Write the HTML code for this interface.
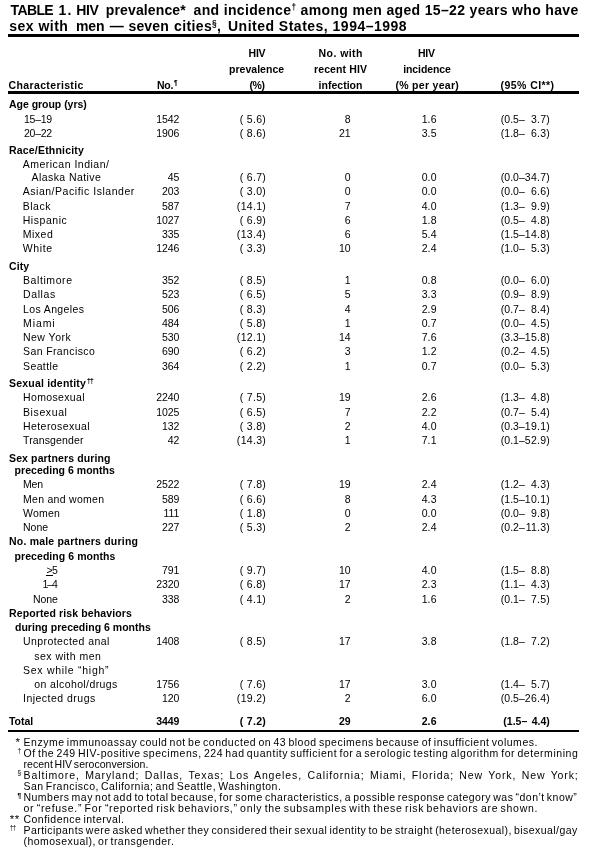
<!DOCTYPE html>
<html lang="en"><head><meta charset="utf-8"><title>TABLE 1</title>
<style>
html,body{margin:0;padding:0;background:#fff;}
#p{will-change:transform;position:relative;width:601px;height:859px;overflow:hidden;background:#fff;color:#000;font-family:"Liberation Sans", sans-serif;}
#p span{position:absolute;white-space:pre;line-height:14px;}
#p b.s{font-size:0.6em;vertical-align:0.55em;line-height:0;}
#p i{position:absolute;display:block;background:#000;}
</style></head><body><div id="p">
<i style="left:8px;top:34px;width:571px;height:3px"></i>
<i style="left:8px;top:91px;width:571px;height:3px"></i>
<i style="left:8px;top:730px;width:571px;height:2px"></i>
<i style="left:46px;top:575px;width:7px;height:1px"></i>
<span style="left:10.60px;top:3.00px;font-size:14px;font-weight:700;letter-spacing:-0.646px;">TABLE</span>
<span style="left:58.60px;top:3.00px;font-size:14px;font-weight:700;letter-spacing:1.014px;">1.</span>
<span style="left:76.20px;top:3.00px;font-size:14px;font-weight:700;letter-spacing:-0.400px;">HIV</span>
<span style="left:105.80px;top:3.00px;font-size:14px;font-weight:700;letter-spacing:0.134px;">prevalence*</span>
<span style="left:193.60px;top:3.00px;font-size:14px;font-weight:700;letter-spacing:0.340px;">and incidence<b class="s">†</b> among men aged 15–22 years who have</span>
<span style="left:9.20px;top:19.00px;font-size:14px;font-weight:700;letter-spacing:0.487px;">sex with</span>
<span style="left:76.00px;top:19.00px;font-size:14px;font-weight:700;letter-spacing:-0.117px;">men</span>
<span style="left:109.80px;top:19.00px;font-size:14px;font-weight:700;">—</span>
<span style="left:128.50px;top:19.00px;font-size:14px;font-weight:700;letter-spacing:0.139px;">seven</span>
<span style="left:174.00px;top:19.00px;font-size:14px;font-weight:700;letter-spacing:0.375px;">cities<b class="s">§</b>,</span>
<span style="left:228.00px;top:19.00px;font-size:14px;font-weight:700;letter-spacing:0.490px;">United States, 1994–1998</span>
<span style="left:8.60px;top:78.00px;font-size:10.5px;font-weight:700;letter-spacing:0.362px;">Characteristic</span>
<span style="left:157.00px;top:78.00px;font-size:10.5px;font-weight:700;letter-spacing:-0.248px;">No.</span>
<span style="left:174.00px;top:76.00px;font-size:6.5px;font-weight:700;">¶</span>
<span style="left:248.60px;top:46.00px;font-size:10.5px;font-weight:700;letter-spacing:-0.300px;">HIV</span>
<span style="left:229.00px;top:62.00px;font-size:10.5px;font-weight:700;letter-spacing:0.030px;">prevalence</span>
<span style="left:249.40px;top:78.00px;font-size:10.5px;font-weight:700;letter-spacing:-0.416px;">(%)</span>
<span style="left:318.60px;top:46.00px;font-size:10.5px;font-weight:700;letter-spacing:0.427px;">No. with</span>
<span style="left:314.00px;top:62.00px;font-size:10.5px;font-weight:700;letter-spacing:0.119px;">recent HIV</span>
<span style="left:318.60px;top:78.00px;font-size:10.5px;font-weight:700;letter-spacing:0.008px;">infection</span>
<span style="left:418.00px;top:46.00px;font-size:10.5px;font-weight:700;letter-spacing:-0.250px;">HIV</span>
<span style="left:403.20px;top:62.00px;font-size:10.5px;font-weight:700;letter-spacing:-0.099px;">incidence</span>
<span style="left:395.40px;top:78.00px;font-size:10.5px;font-weight:700;letter-spacing:0.299px;">(% per year)</span>
<span style="left:500.60px;top:78.00px;font-size:10.5px;font-weight:700;letter-spacing:0.422px;">(95% CI**)</span>
<span style="left:9.00px;top:97.00px;font-size:10.5px;font-weight:700;letter-spacing:-0.027px;">Age group (yrs)</span>
<span style="left:24.00px;top:112.00px;font-size:10.5px;letter-spacing:-0.265px;">15–19</span>
<span style="left:156.18px;top:112.00px;font-size:10.5px;letter-spacing:-0.100px;">1542</span>
<span style="left:239.79px;top:112.00px;font-size:10.5px;letter-spacing:0.300px;">( 5.6)</span>
<span style="left:344.80px;top:112.00px;font-size:10.5px;">8</span>
<span style="left:421.64px;top:112.00px;font-size:10.5px;letter-spacing:0.150px;">1.6</span>
<span style="left:500.80px;top:112.00px;font-size:10.5px;">(0.5–</span>
<span style="left:530.95px;top:112.00px;font-size:10.5px;letter-spacing:0.250px;">3.7)</span>
<span style="left:24.00px;top:126.00px;font-size:10.5px;letter-spacing:-0.265px;">20–22</span>
<span style="left:156.18px;top:126.00px;font-size:10.5px;letter-spacing:-0.100px;">1906</span>
<span style="left:239.79px;top:126.00px;font-size:10.5px;letter-spacing:0.300px;">( 8.6)</span>
<span style="left:338.96px;top:126.00px;font-size:10.5px;">21</span>
<span style="left:421.64px;top:126.00px;font-size:10.5px;letter-spacing:0.150px;">3.5</span>
<span style="left:500.80px;top:126.00px;font-size:10.5px;">(1.8–</span>
<span style="left:530.95px;top:126.00px;font-size:10.5px;letter-spacing:0.250px;">6.3)</span>
<span style="left:9.00px;top:143.00px;font-size:10.5px;font-weight:700;letter-spacing:0.191px;">Race/Ethnicity</span>
<span style="left:22.70px;top:157.00px;font-size:10.5px;letter-spacing:0.495px;">American Indian/</span>
<span style="left:31.60px;top:170.00px;font-size:10.5px;letter-spacing:0.420px;">Alaska Native</span>
<span style="left:167.66px;top:170.00px;font-size:10.5px;letter-spacing:-0.100px;">45</span>
<span style="left:239.79px;top:170.00px;font-size:10.5px;letter-spacing:0.300px;">( 6.7)</span>
<span style="left:344.80px;top:170.00px;font-size:10.5px;">0</span>
<span style="left:421.64px;top:170.00px;font-size:10.5px;letter-spacing:0.150px;">0.0</span>
<span style="left:500.80px;top:170.00px;font-size:10.5px;">(0.0–</span>
<span style="left:524.86px;top:170.00px;font-size:10.5px;letter-spacing:0.250px;">34.7)</span>
<span style="left:22.70px;top:184.00px;font-size:10.5px;letter-spacing:0.534px;">Asian/Pacific Islander</span>
<span style="left:161.92px;top:184.00px;font-size:10.5px;letter-spacing:-0.100px;">203</span>
<span style="left:239.79px;top:184.00px;font-size:10.5px;letter-spacing:0.300px;">( 3.0)</span>
<span style="left:344.80px;top:184.00px;font-size:10.5px;">0</span>
<span style="left:421.64px;top:184.00px;font-size:10.5px;letter-spacing:0.150px;">0.0</span>
<span style="left:500.80px;top:184.00px;font-size:10.5px;">(0.0–</span>
<span style="left:530.95px;top:184.00px;font-size:10.5px;letter-spacing:0.250px;">6.6)</span>
<span style="left:22.70px;top:199.00px;font-size:10.5px;letter-spacing:0.544px;">Black</span>
<span style="left:161.92px;top:199.00px;font-size:10.5px;letter-spacing:-0.100px;">587</span>
<span style="left:236.87px;top:199.00px;font-size:10.5px;letter-spacing:0.300px;">(14.1)</span>
<span style="left:344.80px;top:199.00px;font-size:10.5px;">7</span>
<span style="left:421.64px;top:199.00px;font-size:10.5px;letter-spacing:0.150px;">4.0</span>
<span style="left:500.80px;top:199.00px;font-size:10.5px;">(1.3–</span>
<span style="left:530.95px;top:199.00px;font-size:10.5px;letter-spacing:0.250px;">9.9)</span>
<span style="left:22.70px;top:213.00px;font-size:10.5px;letter-spacing:0.555px;">Hispanic</span>
<span style="left:156.18px;top:213.00px;font-size:10.5px;letter-spacing:-0.100px;">1027</span>
<span style="left:239.79px;top:213.00px;font-size:10.5px;letter-spacing:0.300px;">( 6.9)</span>
<span style="left:344.80px;top:213.00px;font-size:10.5px;">6</span>
<span style="left:421.64px;top:213.00px;font-size:10.5px;letter-spacing:0.150px;">1.8</span>
<span style="left:500.80px;top:213.00px;font-size:10.5px;">(0.5–</span>
<span style="left:530.95px;top:213.00px;font-size:10.5px;letter-spacing:0.250px;">4.8)</span>
<span style="left:22.70px;top:227.00px;font-size:10.5px;letter-spacing:0.533px;">Mixed</span>
<span style="left:161.92px;top:227.00px;font-size:10.5px;letter-spacing:-0.100px;">335</span>
<span style="left:236.87px;top:227.00px;font-size:10.5px;letter-spacing:0.300px;">(13.4)</span>
<span style="left:344.80px;top:227.00px;font-size:10.5px;">6</span>
<span style="left:421.64px;top:227.00px;font-size:10.5px;letter-spacing:0.150px;">5.4</span>
<span style="left:500.80px;top:227.00px;font-size:10.5px;">(1.5–</span>
<span style="left:524.86px;top:227.00px;font-size:10.5px;letter-spacing:0.250px;">14.8)</span>
<span style="left:22.70px;top:241.00px;font-size:10.5px;letter-spacing:0.650px;">White</span>
<span style="left:156.18px;top:241.00px;font-size:10.5px;letter-spacing:-0.100px;">1246</span>
<span style="left:239.79px;top:241.00px;font-size:10.5px;letter-spacing:0.300px;">( 3.3)</span>
<span style="left:338.96px;top:241.00px;font-size:10.5px;">10</span>
<span style="left:421.64px;top:241.00px;font-size:10.5px;letter-spacing:0.150px;">2.4</span>
<span style="left:500.80px;top:241.00px;font-size:10.5px;">(1.0–</span>
<span style="left:530.95px;top:241.00px;font-size:10.5px;letter-spacing:0.250px;">5.3)</span>
<span style="left:9.00px;top:259.00px;font-size:10.5px;font-weight:700;letter-spacing:0.101px;">City</span>
<span style="left:23.00px;top:273.00px;font-size:10.5px;letter-spacing:0.586px;">Baltimore</span>
<span style="left:161.92px;top:273.00px;font-size:10.5px;letter-spacing:-0.100px;">352</span>
<span style="left:239.79px;top:273.00px;font-size:10.5px;letter-spacing:0.300px;">( 8.5)</span>
<span style="left:344.80px;top:273.00px;font-size:10.5px;">1</span>
<span style="left:421.64px;top:273.00px;font-size:10.5px;letter-spacing:0.150px;">0.8</span>
<span style="left:500.80px;top:273.00px;font-size:10.5px;">(0.0–</span>
<span style="left:530.95px;top:273.00px;font-size:10.5px;letter-spacing:0.250px;">6.0)</span>
<span style="left:23.00px;top:287.00px;font-size:10.5px;letter-spacing:0.615px;">Dallas</span>
<span style="left:161.92px;top:287.00px;font-size:10.5px;letter-spacing:-0.100px;">523</span>
<span style="left:239.79px;top:287.00px;font-size:10.5px;letter-spacing:0.300px;">( 6.5)</span>
<span style="left:344.80px;top:287.00px;font-size:10.5px;">5</span>
<span style="left:421.64px;top:287.00px;font-size:10.5px;letter-spacing:0.150px;">3.3</span>
<span style="left:500.80px;top:287.00px;font-size:10.5px;">(0.9–</span>
<span style="left:530.95px;top:287.00px;font-size:10.5px;letter-spacing:0.250px;">8.9)</span>
<span style="left:23.00px;top:302.00px;font-size:10.5px;letter-spacing:0.376px;">Los Angeles</span>
<span style="left:161.92px;top:302.00px;font-size:10.5px;letter-spacing:-0.100px;">506</span>
<span style="left:239.79px;top:302.00px;font-size:10.5px;letter-spacing:0.300px;">( 8.3)</span>
<span style="left:344.80px;top:302.00px;font-size:10.5px;">4</span>
<span style="left:421.64px;top:302.00px;font-size:10.5px;letter-spacing:0.150px;">2.9</span>
<span style="left:500.80px;top:302.00px;font-size:10.5px;">(0.7–</span>
<span style="left:530.95px;top:302.00px;font-size:10.5px;letter-spacing:0.250px;">8.4)</span>
<span style="left:23.00px;top:316.00px;font-size:10.5px;letter-spacing:0.909px;">Miami</span>
<span style="left:161.92px;top:316.00px;font-size:10.5px;letter-spacing:-0.100px;">484</span>
<span style="left:239.79px;top:316.00px;font-size:10.5px;letter-spacing:0.300px;">( 5.8)</span>
<span style="left:344.80px;top:316.00px;font-size:10.5px;">1</span>
<span style="left:421.64px;top:316.00px;font-size:10.5px;letter-spacing:0.150px;">0.7</span>
<span style="left:500.80px;top:316.00px;font-size:10.5px;">(0.0–</span>
<span style="left:530.95px;top:316.00px;font-size:10.5px;letter-spacing:0.250px;">4.5)</span>
<span style="left:23.00px;top:330.00px;font-size:10.5px;letter-spacing:0.472px;">New York</span>
<span style="left:161.92px;top:330.00px;font-size:10.5px;letter-spacing:-0.100px;">530</span>
<span style="left:236.87px;top:330.00px;font-size:10.5px;letter-spacing:0.300px;">(12.1)</span>
<span style="left:338.96px;top:330.00px;font-size:10.5px;">14</span>
<span style="left:421.64px;top:330.00px;font-size:10.5px;letter-spacing:0.150px;">7.6</span>
<span style="left:500.80px;top:330.00px;font-size:10.5px;">(3.3–</span>
<span style="left:524.86px;top:330.00px;font-size:10.5px;letter-spacing:0.250px;">15.8)</span>
<span style="left:23.00px;top:344.00px;font-size:10.5px;letter-spacing:0.394px;">San Francisco</span>
<span style="left:161.92px;top:344.00px;font-size:10.5px;letter-spacing:-0.100px;">690</span>
<span style="left:239.79px;top:344.00px;font-size:10.5px;letter-spacing:0.300px;">( 6.2)</span>
<span style="left:344.80px;top:344.00px;font-size:10.5px;">3</span>
<span style="left:421.64px;top:344.00px;font-size:10.5px;letter-spacing:0.150px;">1.2</span>
<span style="left:500.80px;top:344.00px;font-size:10.5px;">(0.2–</span>
<span style="left:530.95px;top:344.00px;font-size:10.5px;letter-spacing:0.250px;">4.5)</span>
<span style="left:23.00px;top:359.00px;font-size:10.5px;letter-spacing:0.392px;">Seattle</span>
<span style="left:161.92px;top:359.00px;font-size:10.5px;letter-spacing:-0.100px;">364</span>
<span style="left:239.79px;top:359.00px;font-size:10.5px;letter-spacing:0.300px;">( 2.2)</span>
<span style="left:344.80px;top:359.00px;font-size:10.5px;">1</span>
<span style="left:421.64px;top:359.00px;font-size:10.5px;letter-spacing:0.150px;">0.7</span>
<span style="left:500.80px;top:359.00px;font-size:10.5px;">(0.0–</span>
<span style="left:530.95px;top:359.00px;font-size:10.5px;letter-spacing:0.250px;">5.3)</span>
<span style="left:9.00px;top:376.00px;font-size:10.5px;font-weight:700;letter-spacing:0.195px;">Sexual identity</span>
<span style="left:86.80px;top:374.00px;font-size:7.5px;font-weight:700;letter-spacing:-1.171px;">††</span>
<span style="left:23.00px;top:390.00px;font-size:10.5px;letter-spacing:0.353px;">Homosexual</span>
<span style="left:156.18px;top:390.00px;font-size:10.5px;letter-spacing:-0.100px;">2240</span>
<span style="left:239.79px;top:390.00px;font-size:10.5px;letter-spacing:0.300px;">( 7.5)</span>
<span style="left:338.96px;top:390.00px;font-size:10.5px;">19</span>
<span style="left:421.64px;top:390.00px;font-size:10.5px;letter-spacing:0.150px;">2.6</span>
<span style="left:500.80px;top:390.00px;font-size:10.5px;">(1.3–</span>
<span style="left:530.95px;top:390.00px;font-size:10.5px;letter-spacing:0.250px;">4.8)</span>
<span style="left:23.00px;top:405.00px;font-size:10.5px;letter-spacing:0.606px;">Bisexual</span>
<span style="left:156.18px;top:405.00px;font-size:10.5px;letter-spacing:-0.100px;">1025</span>
<span style="left:239.79px;top:405.00px;font-size:10.5px;letter-spacing:0.300px;">( 6.5)</span>
<span style="left:344.80px;top:405.00px;font-size:10.5px;">7</span>
<span style="left:421.64px;top:405.00px;font-size:10.5px;letter-spacing:0.150px;">2.2</span>
<span style="left:500.80px;top:405.00px;font-size:10.5px;">(0.7–</span>
<span style="left:530.95px;top:405.00px;font-size:10.5px;letter-spacing:0.250px;">5.4)</span>
<span style="left:23.00px;top:419.00px;font-size:10.5px;letter-spacing:0.424px;">Heterosexual</span>
<span style="left:161.92px;top:419.00px;font-size:10.5px;letter-spacing:-0.100px;">132</span>
<span style="left:239.79px;top:419.00px;font-size:10.5px;letter-spacing:0.300px;">( 3.8)</span>
<span style="left:344.80px;top:419.00px;font-size:10.5px;">2</span>
<span style="left:421.64px;top:419.00px;font-size:10.5px;letter-spacing:0.150px;">4.0</span>
<span style="left:500.80px;top:419.00px;font-size:10.5px;">(0.3–</span>
<span style="left:524.86px;top:419.00px;font-size:10.5px;letter-spacing:0.250px;">19.1)</span>
<span style="left:23.00px;top:433.00px;font-size:10.5px;letter-spacing:0.135px;">Transgender</span>
<span style="left:167.66px;top:433.00px;font-size:10.5px;letter-spacing:-0.100px;">42</span>
<span style="left:236.87px;top:433.00px;font-size:10.5px;letter-spacing:0.300px;">(14.3)</span>
<span style="left:344.80px;top:433.00px;font-size:10.5px;">1</span>
<span style="left:421.64px;top:433.00px;font-size:10.5px;letter-spacing:0.150px;">7.1</span>
<span style="left:500.80px;top:433.00px;font-size:10.5px;">(0.1–</span>
<span style="left:524.86px;top:433.00px;font-size:10.5px;letter-spacing:0.250px;">52.9)</span>
<span style="left:9.00px;top:451.00px;font-size:10.5px;font-weight:700;letter-spacing:0.123px;">Sex partners during</span>
<span style="left:14.60px;top:463.00px;font-size:10.5px;font-weight:700;letter-spacing:0.028px;">preceding 6 months</span>
<span style="left:23.00px;top:477.00px;font-size:10.5px;letter-spacing:-0.143px;">Men</span>
<span style="left:156.18px;top:477.00px;font-size:10.5px;letter-spacing:-0.100px;">2522</span>
<span style="left:239.79px;top:477.00px;font-size:10.5px;letter-spacing:0.300px;">( 7.8)</span>
<span style="left:338.96px;top:477.00px;font-size:10.5px;">19</span>
<span style="left:421.64px;top:477.00px;font-size:10.5px;letter-spacing:0.150px;">2.4</span>
<span style="left:500.80px;top:477.00px;font-size:10.5px;">(1.2–</span>
<span style="left:530.95px;top:477.00px;font-size:10.5px;letter-spacing:0.250px;">4.3)</span>
<span style="left:23.00px;top:492.00px;font-size:10.5px;letter-spacing:0.284px;">Men and women</span>
<span style="left:161.92px;top:492.00px;font-size:10.5px;letter-spacing:-0.100px;">589</span>
<span style="left:239.79px;top:492.00px;font-size:10.5px;letter-spacing:0.300px;">( 6.6)</span>
<span style="left:344.80px;top:492.00px;font-size:10.5px;">8</span>
<span style="left:421.64px;top:492.00px;font-size:10.5px;letter-spacing:0.150px;">4.3</span>
<span style="left:500.80px;top:492.00px;font-size:10.5px;">(1.5–</span>
<span style="left:524.86px;top:492.00px;font-size:10.5px;letter-spacing:0.250px;">10.1)</span>
<span style="left:23.00px;top:506.00px;font-size:10.5px;letter-spacing:0.213px;">Women</span>
<span style="left:163.48px;top:506.00px;font-size:10.5px;letter-spacing:-0.100px;">111</span>
<span style="left:239.79px;top:506.00px;font-size:10.5px;letter-spacing:0.300px;">( 1.8)</span>
<span style="left:344.80px;top:506.00px;font-size:10.5px;">0</span>
<span style="left:421.64px;top:506.00px;font-size:10.5px;letter-spacing:0.150px;">0.0</span>
<span style="left:500.80px;top:506.00px;font-size:10.5px;">(0.0–</span>
<span style="left:530.95px;top:506.00px;font-size:10.5px;letter-spacing:0.250px;">9.8)</span>
<span style="left:23.00px;top:520.00px;font-size:10.5px;letter-spacing:0.013px;">None</span>
<span style="left:161.92px;top:520.00px;font-size:10.5px;letter-spacing:-0.100px;">227</span>
<span style="left:239.79px;top:520.00px;font-size:10.5px;letter-spacing:0.300px;">( 5.3)</span>
<span style="left:344.80px;top:520.00px;font-size:10.5px;">2</span>
<span style="left:421.64px;top:520.00px;font-size:10.5px;letter-spacing:0.150px;">2.4</span>
<span style="left:500.80px;top:520.00px;font-size:10.5px;">(0.2–</span>
<span style="left:525.64px;top:520.00px;font-size:10.5px;letter-spacing:0.250px;">11.3)</span>
<span style="left:9.00px;top:534.00px;font-size:10.5px;font-weight:700;letter-spacing:0.202px;">No. male partners during</span>
<span style="left:14.60px;top:549.00px;font-size:10.5px;font-weight:700;letter-spacing:0.057px;">preceding 6 months</span>
<span style="left:46.60px;top:563.00px;font-size:10.5px;letter-spacing:-0.732px;">&gt;5</span>
<span style="left:161.92px;top:563.00px;font-size:10.5px;letter-spacing:-0.100px;">791</span>
<span style="left:239.79px;top:563.00px;font-size:10.5px;letter-spacing:0.300px;">( 9.7)</span>
<span style="left:338.96px;top:563.00px;font-size:10.5px;">10</span>
<span style="left:421.64px;top:563.00px;font-size:10.5px;letter-spacing:0.150px;">4.0</span>
<span style="left:500.80px;top:563.00px;font-size:10.5px;">(1.5–</span>
<span style="left:530.95px;top:563.00px;font-size:10.5px;letter-spacing:0.250px;">8.8)</span>
<span style="left:42.60px;top:577.00px;font-size:10.5px;letter-spacing:-1.140px;">1–4</span>
<span style="left:156.18px;top:577.00px;font-size:10.5px;letter-spacing:-0.100px;">2320</span>
<span style="left:239.79px;top:577.00px;font-size:10.5px;letter-spacing:0.300px;">( 6.8)</span>
<span style="left:338.96px;top:577.00px;font-size:10.5px;">17</span>
<span style="left:421.64px;top:577.00px;font-size:10.5px;letter-spacing:0.150px;">2.3</span>
<span style="left:500.80px;top:577.00px;font-size:10.5px;">(1.1–</span>
<span style="left:530.95px;top:577.00px;font-size:10.5px;letter-spacing:0.250px;">4.3)</span>
<span style="left:33.00px;top:592.00px;font-size:10.5px;letter-spacing:-0.087px;">None</span>
<span style="left:161.92px;top:592.00px;font-size:10.5px;letter-spacing:-0.100px;">338</span>
<span style="left:239.79px;top:592.00px;font-size:10.5px;letter-spacing:0.300px;">( 4.1)</span>
<span style="left:344.80px;top:592.00px;font-size:10.5px;">2</span>
<span style="left:421.64px;top:592.00px;font-size:10.5px;letter-spacing:0.150px;">1.6</span>
<span style="left:500.80px;top:592.00px;font-size:10.5px;">(0.1–</span>
<span style="left:530.95px;top:592.00px;font-size:10.5px;letter-spacing:0.250px;">7.5)</span>
<span style="left:9.00px;top:606.00px;font-size:10.5px;font-weight:700;letter-spacing:0.120px;">Reported risk behaviors</span>
<span style="left:15.00px;top:620.00px;font-size:10.5px;font-weight:700;letter-spacing:0.021px;">during preceding 6 months</span>
<span style="left:23.00px;top:634.00px;font-size:10.5px;letter-spacing:0.424px;">Unprotected anal</span>
<span style="left:156.18px;top:634.00px;font-size:10.5px;letter-spacing:-0.100px;">1408</span>
<span style="left:239.79px;top:634.00px;font-size:10.5px;letter-spacing:0.300px;">( 8.5)</span>
<span style="left:338.96px;top:634.00px;font-size:10.5px;">17</span>
<span style="left:421.64px;top:634.00px;font-size:10.5px;letter-spacing:0.150px;">3.8</span>
<span style="left:500.80px;top:634.00px;font-size:10.5px;">(1.8–</span>
<span style="left:530.95px;top:634.00px;font-size:10.5px;letter-spacing:0.250px;">7.2)</span>
<span style="left:34.30px;top:649.00px;font-size:10.5px;letter-spacing:0.479px;">sex with men</span>
<span style="left:23.00px;top:663.00px;font-size:10.5px;letter-spacing:0.720px;">Sex while “high”</span>
<span style="left:34.30px;top:677.00px;font-size:10.5px;letter-spacing:0.393px;">on alcohol/drugs</span>
<span style="left:156.18px;top:677.00px;font-size:10.5px;letter-spacing:-0.100px;">1756</span>
<span style="left:239.79px;top:677.00px;font-size:10.5px;letter-spacing:0.300px;">( 7.6)</span>
<span style="left:338.96px;top:677.00px;font-size:10.5px;">17</span>
<span style="left:421.64px;top:677.00px;font-size:10.5px;letter-spacing:0.150px;">3.0</span>
<span style="left:500.80px;top:677.00px;font-size:10.5px;">(1.4–</span>
<span style="left:530.95px;top:677.00px;font-size:10.5px;letter-spacing:0.250px;">5.7)</span>
<span style="left:23.00px;top:691.00px;font-size:10.5px;letter-spacing:0.484px;">Injected drugs</span>
<span style="left:161.92px;top:691.00px;font-size:10.5px;letter-spacing:-0.100px;">120</span>
<span style="left:236.87px;top:691.00px;font-size:10.5px;letter-spacing:0.300px;">(19.2)</span>
<span style="left:344.80px;top:691.00px;font-size:10.5px;">2</span>
<span style="left:421.64px;top:691.00px;font-size:10.5px;letter-spacing:0.150px;">6.0</span>
<span style="left:500.80px;top:691.00px;font-size:10.5px;">(0.5–</span>
<span style="left:524.86px;top:691.00px;font-size:10.5px;letter-spacing:0.250px;">26.4)</span>
<span style="left:9.00px;top:714.00px;font-size:10.5px;font-weight:700;letter-spacing:-0.021px;">Total</span>
<span style="left:156.18px;top:714.00px;font-size:10.5px;font-weight:700;letter-spacing:-0.100px;">3449</span>
<span style="left:239.79px;top:714.00px;font-size:10.5px;font-weight:700;letter-spacing:0.300px;">( 7.2)</span>
<span style="left:338.96px;top:714.00px;font-size:10.5px;font-weight:700;">29</span>
<span style="left:421.64px;top:714.00px;font-size:10.5px;font-weight:700;letter-spacing:0.150px;">2.6</span>
<span style="left:503.30px;top:714.00px;font-size:10.5px;font-weight:700;">(1.5–</span>
<span style="left:531.70px;top:714.00px;font-size:10.5px;font-weight:700;">4.4)</span>
<span style="left:23.50px;top:735.00px;font-size:10.5px;letter-spacing:0.526px;word-spacing:-1.200px;">Enzyme immunoassay could not be conducted on 43 blood specimens because of insufficient volumes.</span>
<span style="left:23.50px;top:746.00px;font-size:10.5px;letter-spacing:0.557px;word-spacing:-1.200px;">Of the 249 HIV-positive specimens, 224 had quantity sufficient for a serologic testing algorithm for determining</span>
<span style="left:23.50px;top:757.00px;font-size:10.5px;letter-spacing:0.023px;word-spacing:-1.200px;">recent HIV seroconversion.</span>
<span style="left:23.50px;top:768.00px;font-size:10.5px;letter-spacing:0.900px;word-spacing:1.585px;">Baltimore, Maryland; Dallas, Texas; Los Angeles, California; Miami, Florida; New York, New York;</span>
<span style="left:23.50px;top:779.00px;font-size:10.5px;letter-spacing:0.465px;word-spacing:-1.200px;">San Francisco, California; and Seattle, Washington.</span>
<span style="left:23.50px;top:790.00px;font-size:10.5px;letter-spacing:0.475px;word-spacing:-1.200px;">Numbers may not add to total because, for some characteristics, a possible response category was “don’t know”</span>
<span style="left:23.50px;top:801.00px;font-size:10.5px;letter-spacing:0.710px;word-spacing:-1.200px;">or “refuse.” For “reported risk behaviors,” only the subsamples with these risk behaviors are shown.</span>
<span style="left:23.50px;top:812.00px;font-size:10.5px;letter-spacing:0.464px;word-spacing:-1.200px;">Confidence interval.</span>
<span style="left:23.50px;top:823.00px;font-size:10.5px;letter-spacing:0.446px;word-spacing:-1.200px;">Participants were asked whether they considered their sexual identity to be straight (heterosexual), bisexual/gay</span>
<span style="left:23.50px;top:834.00px;font-size:10.5px;letter-spacing:0.455px;word-spacing:-1.200px;">(homosexual), or transgender.</span>
<span style="left:15.50px;top:735.00px;font-size:11.5px;">*</span>
<span style="left:17.60px;top:744.00px;font-size:6.5px;">†</span>
<span style="left:17.40px;top:766.00px;font-size:6.5px;">§</span>
<span style="left:17.40px;top:789.00px;font-size:6.5px;font-weight:700;">¶</span>
<span style="left:9.80px;top:812.00px;font-size:11.5px;letter-spacing:0.525px;">**</span>
<span style="left:9.70px;top:821.00px;font-size:6.5px;letter-spacing:-0.915px;">††</span>
</div></body></html>
